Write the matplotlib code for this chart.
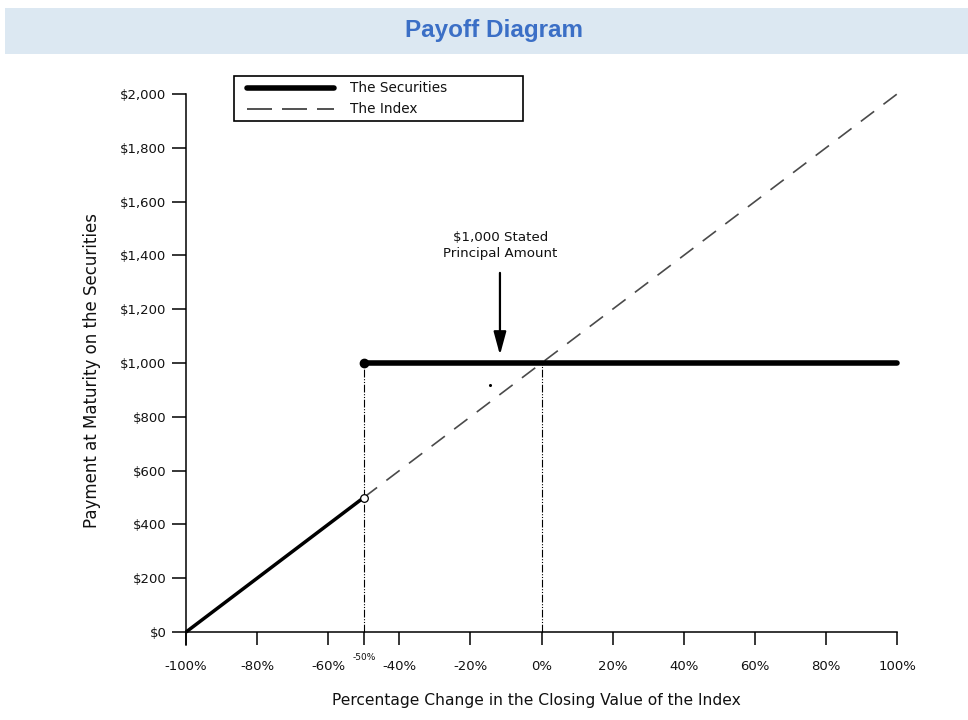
import matplotlib
matplotlib.use("Agg")
import matplotlib.pyplot as plt
from matplotlib.lines import Line2D
from matplotlib.patches import Rectangle

plt.rcParams.update({
    "font.family": "sans-serif",
    "font.sans-serif": ["DejaVu Sans"],
})

# ── data ──────────────────────────────────────────────────────────────────────
x_ticks = [-100, -80, -60, -40, -20, 0, 20, 40, 60, 80, 100]
x_tick_labels = ["-100%", "-80%", "-60%", "-40%", "-20%", "0%", "20%", "40%", "60%", "80%", "100%"]
barrier_x = -50
barrier_label = "-50%"
y_ticks = [0, 200, 400, 600, 800, 1000, 1200, 1400, 1600, 1800, 2000]
y_tick_labels = ["$0", "$200", "$400", "$600", "$800", "$1,000", "$1,200", "$1,400",
                 "$1,600", "$1,800", "$2,000"]

sec_low_x = [-100, -50]      # securities below the barrier (track the index)
sec_low_y = [0, 500]
sec_flat_x = [-50, 100]      # securities at/above the barrier (principal back)
sec_flat_y = [1000, 1000]
index_x = [-50, 100]
index_y = [500, 2000]
guide_x = [-50, 0]           # dash-dot guides from the axis up to $1,000
guide_top = 1000
principal = 1000
arrow_x = -11.7
stray_dot = (-14.5, 918)

INK = "#111111"

# ── figure ────────────────────────────────────────────────────────────────────
fig = plt.figure(figsize=(9.68, 7.2), dpi=100)
W, H = 968, 720


def fx(px):
    return px / W


def fy(py):
    return 1 - py / H


# title banner
fig.patches.append(Rectangle((fx(5), fy(54)), 963 / W, 46 / H,
                             transform=fig.transFigure, facecolor="#dce8f2",
                             edgecolor="none", zorder=0))
fig.text(fx(494), fy(31), "Payoff Diagram", ha="center", va="center",
         fontsize=17.5, fontweight="bold", color="#3b6fc6",
         family=["Liberation Sans Narrow", "Liberation Sans"])

ax = fig.add_axes([0.1738, 0.1035, 0.7713, 0.822])
ax.set_xlim(-105, 105)
ax.set_ylim(-50, 2150)

for s in ("top", "right"):
    ax.spines[s].set_visible(False)
ax.spines["left"].set_position(("data", -100))
ax.spines["left"].set_bounds(-50, 2000)
ax.spines["bottom"].set_position(("data", 0))
ax.spines["bottom"].set_bounds(-100, 100)
for s in ("left", "bottom"):
    ax.spines[s].set_linewidth(1.1)

ax.set_xticks(x_ticks)
ax.set_xticklabels(x_tick_labels)
ax.set_xticks([barrier_x], minor=True)
ax.set_xticklabels([barrier_label], minor=True)
ax.set_yticks(y_ticks)
ax.set_yticklabels(y_tick_labels)
ax.tick_params(axis="x", which="major", direction="out", length=9, width=1.1,
               pad=11, labelsize=9.5, labelcolor=INK)
ax.tick_params(axis="x", which="minor", direction="out", length=9, width=1.1,
               pad=6, labelsize=6.5, labelcolor=INK)
ax.tick_params(axis="y", direction="out", length=10, width=1.1, pad=4,
               labelsize=9.5, labelcolor=INK)

# dash-dot guides
for gx in guide_x:
    ax.plot([gx, gx], [0, guide_top], color="black", lw=0.8,
            dashes=(7, 1.5, 1, 1.5, 1, 1.5), zorder=2)

# the index (dashed)
ax.plot(index_x, index_y, color="#4a4a4a", lw=1.2, dashes=(10, 7), zorder=3,
        clip_on=False)

# the securities
ax.plot(sec_low_x, sec_low_y, color="black", lw=2.5, solid_capstyle="butt",
        zorder=4, clip_on=False)
ax.plot(sec_flat_x, sec_flat_y, color="black", lw=4.0, solid_capstyle="round",
        zorder=4, clip_on=False)
ax.plot([sec_flat_x[0]], [sec_flat_y[0]], "o", color="black", ms=6, zorder=5)
ax.plot([sec_low_x[1]], [sec_low_y[1]], "o", mfc="white", mec="black", mew=0.9,
        ms=5.5, zorder=5)
ax.plot([stray_dot[0]], [stray_dot[1]], "o", color="black", ms=1.2, zorder=5)

# annotation
ax.text(arrow_x + 0.2, principal + 435, "$1,000 Stated\nPrincipal Amount",
        ha="center", va="center", fontsize=9.6, linespacing=1.3, color=INK)
ax.annotate("", xy=(arrow_x, principal + 30), xytext=(arrow_x, principal + 335),
            arrowprops=dict(arrowstyle="-|>,head_length=0.7,head_width=0.19",
                            mutation_scale=20, color="black", lw=1.6,
                            shrinkA=0, shrinkB=0))

ax.set_ylabel("Payment at Maturity on the Securities", fontsize=12, color=INK)
ax.set_xlabel("Percentage Change in the Closing Value of the Index", fontsize=11.2,
              color=INK)
ax.xaxis.set_label_coords((536 - 168.2) / 746.6, -(700 - 645.45) / 591.85)
ax.yaxis.set_label_coords((92 - 168.2) / 746.6, (645.45 - 370) / 591.85)
ax.xaxis.label.set_va("center")
ax.yaxis.label.set_va("center")

# legend box (drawn in figure pixels)
fig.patches.append(Rectangle((fx(234), fy(121)), 289 / W, 45 / H,
                             transform=fig.transFigure, facecolor="white",
                             edgecolor="black", lw=1.2, zorder=5))
fig.add_artist(Line2D([fx(247), fx(334)], [fy(88), fy(88)], color="black", lw=4.0,
                      solid_capstyle="round", zorder=6))
fig.add_artist(Line2D([fx(247), fx(334)], [fy(109), fy(109)], color="#333333", lw=1.2,
                      dashes=(15, 6), zorder=6))
fig.text(fx(350), fy(88), "The Securities", ha="left", va="center", fontsize=9.8,
         color=INK, zorder=6)
fig.text(fx(350), fy(109), "The Index", ha="left", va="center", fontsize=9.8,
         color=INK, zorder=6)

fig.savefig("out.png", dpi=100)
